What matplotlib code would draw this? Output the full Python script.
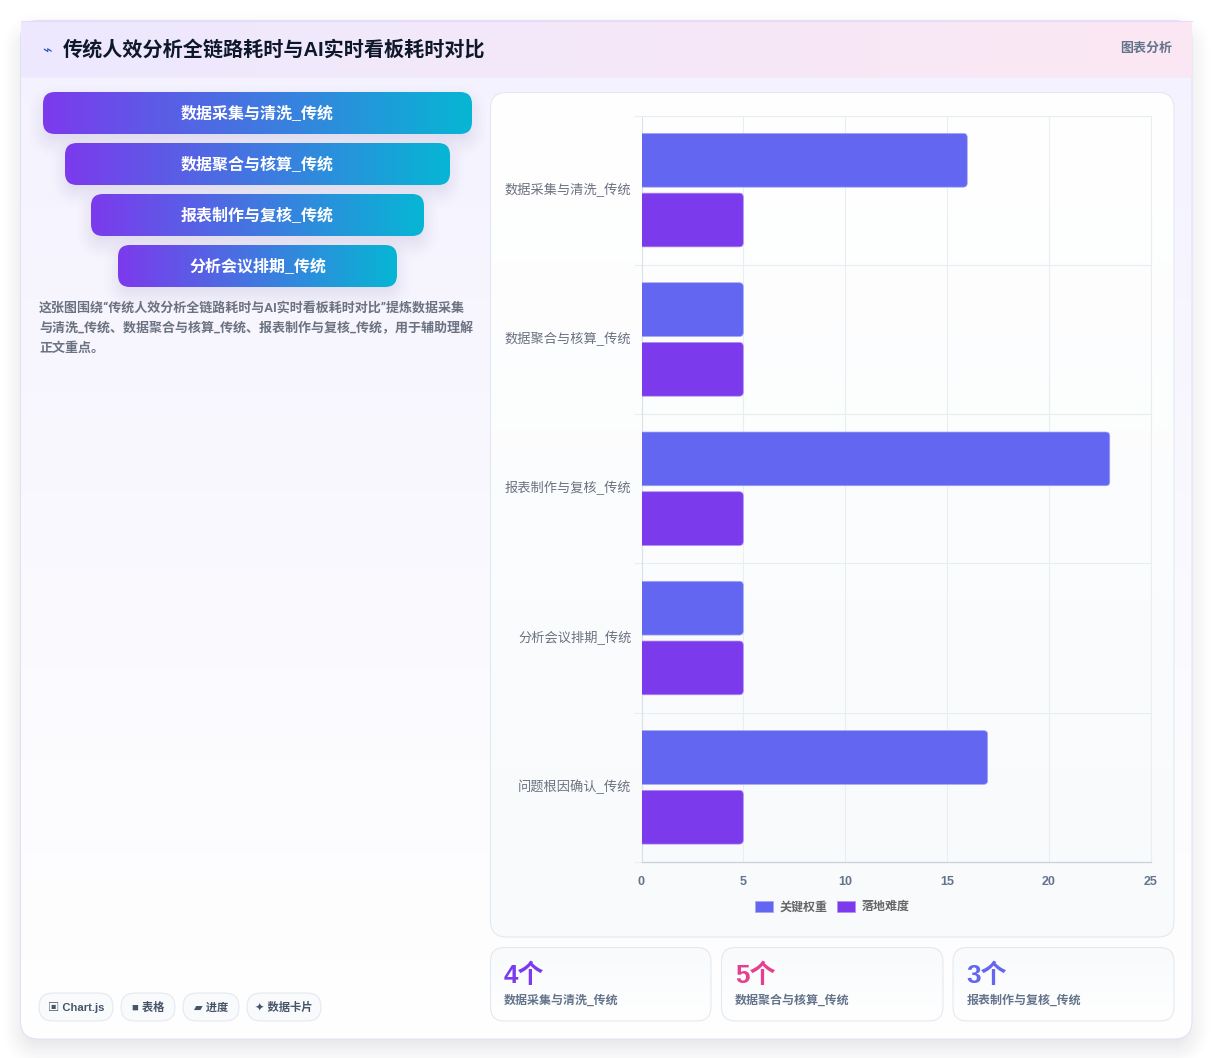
import numpy as np
import matplotlib
matplotlib.use("Agg")
import matplotlib.pyplot as plt
from matplotlib.patches import FancyBboxPatch, PathPatch, Patch
from matplotlib.path import Path
from matplotlib.colors import to_rgb
from matplotlib.transforms import ScaledTranslation

W, H = 1213, 1058
FONT = ["Liberation Sans", "Noto Sans CJK SC", "DejaVu Sans"]
BODY_FONT = ["Roboto", "Noto Sans CJK SC", "DejaVu Sans"]
plt.rcParams["font.family"] = FONT

title = "传统人效分析全链路耗时与AI实时看板耗时对比"
badge = "图表分析"
categories = ["数据采集与清洗_传统", "数据聚合与核算_传统", "报表制作与复核_传统",
              "分析会议排期_传统", "问题根因确认_传统"]
weight_values = [16, 5, 23, 5, 17]
difficulty_values = [5, 5, 5, 5, 5]
series_names = ["关键权重", "落地难度"]
x_ticks = [0, 5, 10, 15, 20, 25]
funnel_labels = categories[:4]
funnel_spans = [(43, 472), (65, 450), (91, 424), (118, 397)]
description = ["这张图围绕“传统人效分析全链路耗时与AI实时看板耗时对比”提炼数据采集",
               "与清洗_传统、数据聚合与核算_传统、报表制作与复核_传统，用于辅助理解",
               "正文重点。"]
pills = [("▣ Chart.js", 39, 113), ("■ 表格", 121, 175), ("▰ 进度", 183, 239), ("✦ 数据卡片", 247, 321)]
stat_values = ["4个", "5个", "3个"]
stat_labels = categories[:3]
stat_colors = ["#7c3aed", "#e5408f", "#6366f1"]
stat_spans = [(490.5, 711), (721.5, 943), (953, 1174)]


def px(size):
    return size * 72 / 100


fig = plt.figure(figsize=(W / 100, H / 100), dpi=100, facecolor="white")
bg = fig.add_axes([0, 0, 1, 1])
bg.set_xlim(0, W)
bg.set_ylim(H, 0)
bg.axis("off")


def round_box(x0, y0, x1, y1, r, **kw):
    return FancyBboxPatch((x0 + r, y0 + r), x1 - x0 - 2 * r, y1 - y0 - 2 * r,
                          boxstyle=f"round,pad={r},rounding_size={r}", **kw)


def shadow(x0, y0, x1, y1, r, dy, blur, color, alpha, z):
    """Soft drop shadow computed from the distance to a rounded rectangle."""
    m = int(blur * 1.5) + 2
    ex0, ex1 = int(x0 - m), int(x1 + m)
    ey0, ey1 = int(y0 + dy - m), int(y1 + dy + m)
    xs, ys = np.meshgrid(np.arange(ex0, ex1) + .5, np.arange(ey0, ey1) + .5)
    cx, cy = (x0 + x1) / 2, (y0 + y1) / 2 + dy
    qx = np.abs(xs - cx) - (x1 - x0) / 2 + r
    qy = np.abs(ys - cy) - (y1 - y0) / 2 + r
    d = np.hypot(np.maximum(qx, 0), np.maximum(qy, 0)) + np.minimum(np.maximum(qx, qy), 0) - r
    t = np.clip(.5 - d / blur, 0, 1)
    a = t * t * (3 - 2 * t) * alpha
    img = np.zeros(a.shape + (4,))
    img[..., :3] = to_rgb(color)
    img[..., 3] = a
    bg.imshow(img, extent=(ex0, ex1, ey1, ey0), aspect="auto", zorder=z, interpolation="bilinear")


def gradient(x0, y0, x1, y1, c0, c1, horizontal, clip, z):
    """Two-colour linear fill clipped to a patch."""
    n = 256
    t = np.linspace(0, 1, n)
    t = t[None, :] if horizontal else t[:, None]
    a, b = np.array(to_rgb(c0)), np.array(to_rgb(c1))
    img = a + (b - a) * t[..., None]
    im = bg.imshow(img, extent=(x0, x1, y1, y0), aspect="auto", zorder=z, interpolation="bilinear")
    im.set_clip_path(clip)


def panel(x0, y0, x1, y1, r, c0, c1, edge, z, horizontal=False, lw=.75):
    shape = round_box(x0, y0, x1, y1, r, facecolor="none", edgecolor="none", transform=bg.transData)
    bg.add_patch(shape)
    gradient(x0, y0, x1, y1, c0, c1, horizontal, shape, z)
    if edge:
        bg.add_patch(round_box(x0, y0, x1, y1, r, facecolor="none", edgecolor=edge, linewidth=lw, zorder=z + .1))


# Outer card and its header band
shadow(20.5, 20.5, 1192, 1039, 18, 10, 46, "#0f172a", .12, 1)
panel(20.5, 20.5, 1192, 1039, 18, "#f4f2fe", "#ffffff", "#e2e0f5", 2)
panel(20.5, 21, 1192, 77, 3, "#ede9fe", "#fce7f3", None, 3, horizontal=True)
bg.plot([20.5, 1192], [21, 21], color="#e6dcf7", lw=.75, zorder=3.2)
bg.plot([20.5, 1192], [77, 77], color="#f0ecfa", lw=.6, zorder=3.2)
bg.text(47, 50, "⌁", fontsize=px(16), color="#2f55c4", ha="center", va="center", zorder=5,
        family=["DejaVu Sans"])
bg.text(63, 50, title, fontsize=px(20.1), color="#0f172a", weight="bold", ha="left", va="center", zorder=5)
bg.text(1172, 49, badge, fontsize=px(13), color="#64748b", weight="bold", ha="right", va="center", zorder=5)

# Funnel bars
for i, (label, (x0, x1)) in enumerate(zip(funnel_labels, funnel_spans)):
    y0 = 92 + 51 * i
    y1 = y0 + 42
    shadow(x0, y0, x1, y1, 12, 8, 38, "#4c3a8a", .15, 4)
    panel(x0, y0, x1, y1, 12, "#7c3aed", "#06b6d4", None, 5 + i * .2, horizontal=True)
    bg.text((x0 + x1) / 2, y0 + 22, label, fontsize=px(16), color="white", weight="bold",
            ha="center", va="center", zorder=6)

for i, line in enumerate(description):
    bg.text(39, 308.4 + 20 * i, line, fontsize=px(13), color="#6b7280", weight="bold", family=BODY_FONT,
            ha="left", va="center", zorder=5)

# Technology pills
for label, x0, x1 in pills:
    bg.add_patch(round_box(x0, 993, x1, 1021, 14, facecolor="#f8fafc", edgecolor="#e2e8f0", linewidth=.75, zorder=4))
    bg.text((x0 + x1) / 2, 1007.5, label, fontsize=px(11.3), color="#475569", weight="bold",
            ha="center", va="center", zorder=5)

# Chart panel and stat cards
panel(490.5, 92.5, 1174, 937, 16, "#ffffff", "#f8fafc", "#e2e8f0", 4)
for value, label, color, (x0, x1) in zip(stat_values, stat_labels, stat_colors, stat_spans):
    panel(x0, 947.5, x1, 1021, 14, "#f8fafc", "#ffffff", "#e2e8f0", 4)
    bg.text(x0 + 13.5, 976, value, fontsize=px(26), color=color, weight="bold", ha="left", va="center", zorder=5)
    bg.text(x0 + 13.5, 1001, label, fontsize=px(12), color="#64748b", weight="bold", ha="left", va="center", zorder=5)

# Grouped horizontal bar chart
left, right, top, bottom = 641.5, 1150.5, 115.5, 862
ax = fig.add_axes([left / W, 1 - bottom / H, (right - left) / W, (bottom - top) / H], facecolor="none", zorder=3)
n = len(categories)
ax.set_xlim(0, 25)
ax.set_ylim(n, 0)
centers = np.arange(n) + .5
bar_h = .36
rx = 4 / ((right - left) / 25)
ry = 4 / ((bottom - top) / n)


def rounded_bars(values, offset, color, edge):
    for rect in ax.barh(centers + offset, values, height=bar_h, color=color):
        rect.set_visible(False)
        x1, y0, h = rect.get_width(), rect.get_y(), rect.get_height()
        y1 = y0 + h
        verts = [(0, y0), (x1 - rx, y0), (x1, y0), (x1, y0 + ry), (x1, y1 - ry), (x1, y1), (x1 - rx, y1),
                 (0, y1), (0, y0)]
        codes = [Path.MOVETO, Path.LINETO, Path.CURVE3, Path.CURVE3, Path.LINETO, Path.CURVE3, Path.CURVE3,
                 Path.LINETO, Path.CLOSEPOLY]
        ax.add_patch(PathPatch(Path(verts, codes), facecolor=color, edgecolor=edge, linewidth=.5, zorder=3))


rounded_bars(weight_values, -.2, "#6366f1", "#a3a5f6")
rounded_bars(difficulty_values, .2, "#7c3aed", "#b48cf3")

ax.set_axisbelow(True)
ax.set_xticks(x_ticks)
ax.set_yticks(np.arange(n + 1))
ax.set_yticklabels([])
ax.set_yticks(centers, minor=True)
ax.set_yticklabels(categories, minor=True)
ax.grid(True, which="major", color="#e8eff3", linewidth=.8)
ax.tick_params(axis="y", which="major", length=px(8), width=.8, color="#e8eff3")
ax.tick_params(axis="y", which="minor", length=0, pad=px(10), labelsize=px(13.2), labelcolor="#6b7280")
ax.tick_params(axis="x", length=0, pad=px(14), labelsize=px(12.5), labelcolor="#64748b")
for lab in ax.get_xticklabels():
    lab.set_fontweight("bold")
# Category labels sit slightly above the band centre
label_shift = ScaledTranslation(0, 2 / 100, fig.dpi_scale_trans)
for lab in ax.get_yticklabels(minor=True):
    lab.set_transform(lab.get_transform() + label_shift)
for side in ("top", "right"):
    ax.spines[side].set_color("#e8eff3")
    ax.spines[side].set_linewidth(.8)
ax.spines["left"].set_color("#d9e1e9")
ax.spines["left"].set_linewidth(.8)
ax.spines["bottom"].set_color("#c8d0d8")
ax.spines["bottom"].set_linewidth(.9)
ax.get_yticklines()[-2].set_color("#c8d0d8")

handles = [Patch(facecolor="#6366f1", edgecolor="#a3a5f6", linewidth=.5),
           Patch(facecolor="#7c3aed", edgecolor="#b48cf3", linewidth=.5)]
ax.legend(handles, series_names, ncol=2, frameon=False, loc="center",
          bbox_to_anchor=(832 / W, 1 - 907 / H), bbox_transform=fig.transFigure,
          handlelength=1.55, handleheight=1.0, handletextpad=.5,
          columnspacing=.8, labelcolor="#666666", borderpad=0, prop={"size": px(12), "weight": "bold", "family": FONT})

bg.set_xlim(0, W)
bg.set_ylim(H, 0)
fig.savefig("out.png", dpi=100, facecolor="white")
